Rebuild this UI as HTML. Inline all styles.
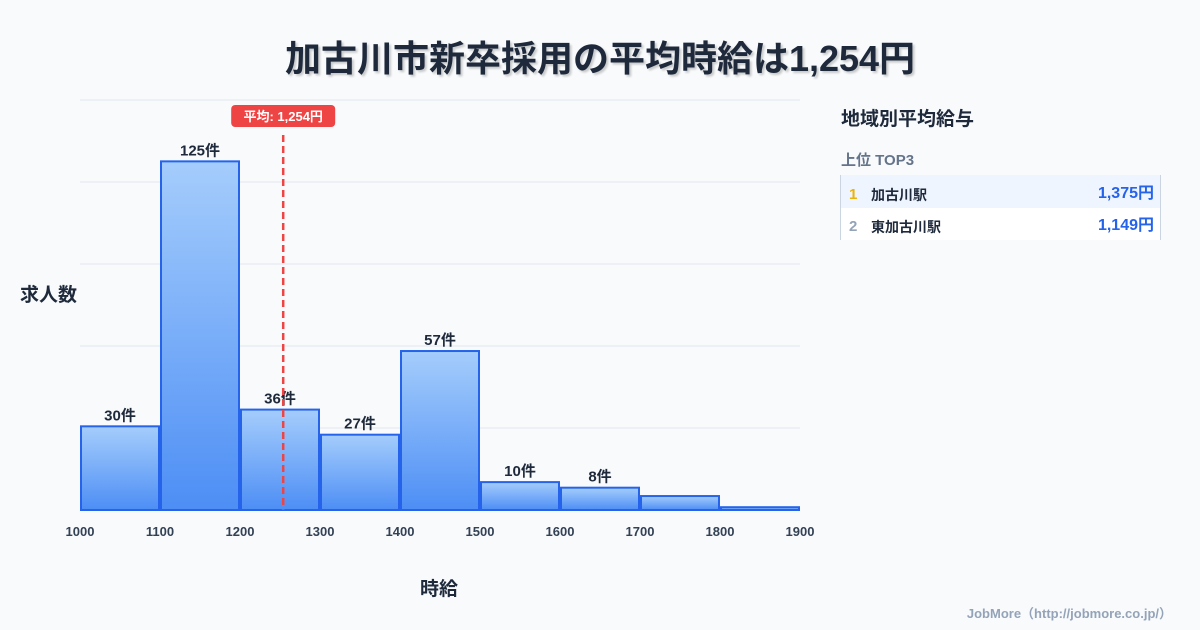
<!DOCTYPE html>
<html><head><meta charset="utf-8">
<style>
body{margin:0;width:1200px;height:630px;background:#f8fafc;font-family:"Liberation Sans","Noto Sans CJK JP",sans-serif;overflow:hidden;position:relative}
.t{position:absolute;font-weight:bold}
</style></head><body>
<div class="t" style="left:0;width:1200px;top:30px;text-align:center;font-size:36px;color:#1e293b;text-shadow:2px 2px 2px rgba(0,0,0,.2)">加古川市新卒採用の平均時給は1,254円</div>
<svg id="c" width="1200" height="630" style="position:absolute;left:0;top:0">
<defs><linearGradient id="g" x1="0" y1="0" x2="0" y2="1"><stop offset="0" stop-color="#a5cdfc"/><stop offset="1" stop-color="#4d8ef5"/></linearGradient></defs>
</svg>
<div class="t" style="left:20px;top:280px;font-size:19px;color:#1e293b">求人数</div>
<div class="t" style="left:420px;top:574px;font-size:19px;color:#1e293b">時給</div>
<div class="t" style="left:841px;top:104px;font-size:19px;color:#1e293b">地域別平均給与</div>
<div class="t" style="left:841px;top:149px;font-size:15px;color:#64748b">上位 TOP3</div>
<div style="position:absolute;left:840px;top:175px;width:319px;height:65px;border-left:1px solid #cbd5e1;border-right:1px solid #cbd5e1">
 <div style="height:33px;background:#eef5fe;position:relative;font-size:14px;font-weight:bold">
  <span style="position:absolute;left:8px;top:11px;color:#eab308;font-size:15px">1</span>
  <span style="position:absolute;left:30px;top:10px;color:#1e293b">加古川駅</span>
  <span style="position:absolute;right:6px;top:11px;line-height:1;color:#2563eb;font-size:16px">1,375円</span></div>
 <div style="height:32px;background:#fff;position:relative;font-size:14px;font-weight:bold">
  <span style="position:absolute;left:8px;top:10px;color:#94a3b8;font-size:15px">2</span>
  <span style="position:absolute;left:30px;top:9px;color:#1e293b">東加古川駅</span>
  <span style="position:absolute;right:6px;top:10px;line-height:1;color:#2563eb;font-size:16px">1,149円</span></div>
</div>
<div class="t" style="right:28px;top:603px;font-size:13px;color:#94a3b8">JobMore（http://jobmore.co.jp/）</div>
<script>
const binStarts=[1000,1100,1200,1300,1400,1500,1600,1700,1800];
const counts=[30,125,36,27,57,10,8,5,1];
const labels=["30件","125件","36件","27件","57件","10件","8件","",""];
const xTicks=[1000,1100,1200,1300,1400,1500,1600,1700,1800,1900];
const meanValue=1254;
const meanLabel="平均: 1,254円";
const yMax=147;
const ns="http://www.w3.org/2000/svg",svg=document.getElementById('c');
const X=v=>80+(v-1000)*0.8, Y=v=>510-v/yMax*410;
function mk(t,a,txt){const e=document.createElementNS(ns,t);for(const k in a)e.setAttribute(k,a[k]);if(txt!=null)e.textContent=txt;svg.appendChild(e);return e;}
for(let i=0;i<=5;i++){const e=mk('line',{x1:80,x2:800,y1:Y(yMax*i/5),y2:Y(yMax*i/5),stroke:'#e2e8f0'});

}
binStarts.forEach((s,i)=>{const x0=X(s)+1,x1=X(s+100)-1,y=Y(counts[i]);
const r=mk('rect',{x:x0,y:y,width:x1-x0,height:510-y,fill:'url(#g)',stroke:'#2563eb','stroke-width':2});


if(labels[i]){const t=mk('text',{x:(x0+x1)/2,y:y-6,'text-anchor':'middle','font-size':15,'font-weight':'bold',fill:'#1e293b'},labels[i]);

}});
xTicks.forEach(v=>{const t=mk('text',{x:X(v),y:536,'text-anchor':'middle','font-size':13,'font-weight':'bold',fill:'#334155'},v);

});
const mx=X(meanValue);
const ml=mk('line',{x1:mx,x2:mx,y1:135,y2:510,stroke:'#ef4444','stroke-width':2.5,'stroke-dasharray':'7,4'});


const mb=mk('rect',{x:mx-52,y:105,width:104,height:22,rx:4,fill:'#ef4444'});


const mt=mk('text',{x:mx,y:121,'text-anchor':'middle','font-size':13,'font-weight':'bold',fill:'#fff'},meanLabel);


</script>
</body></html>
